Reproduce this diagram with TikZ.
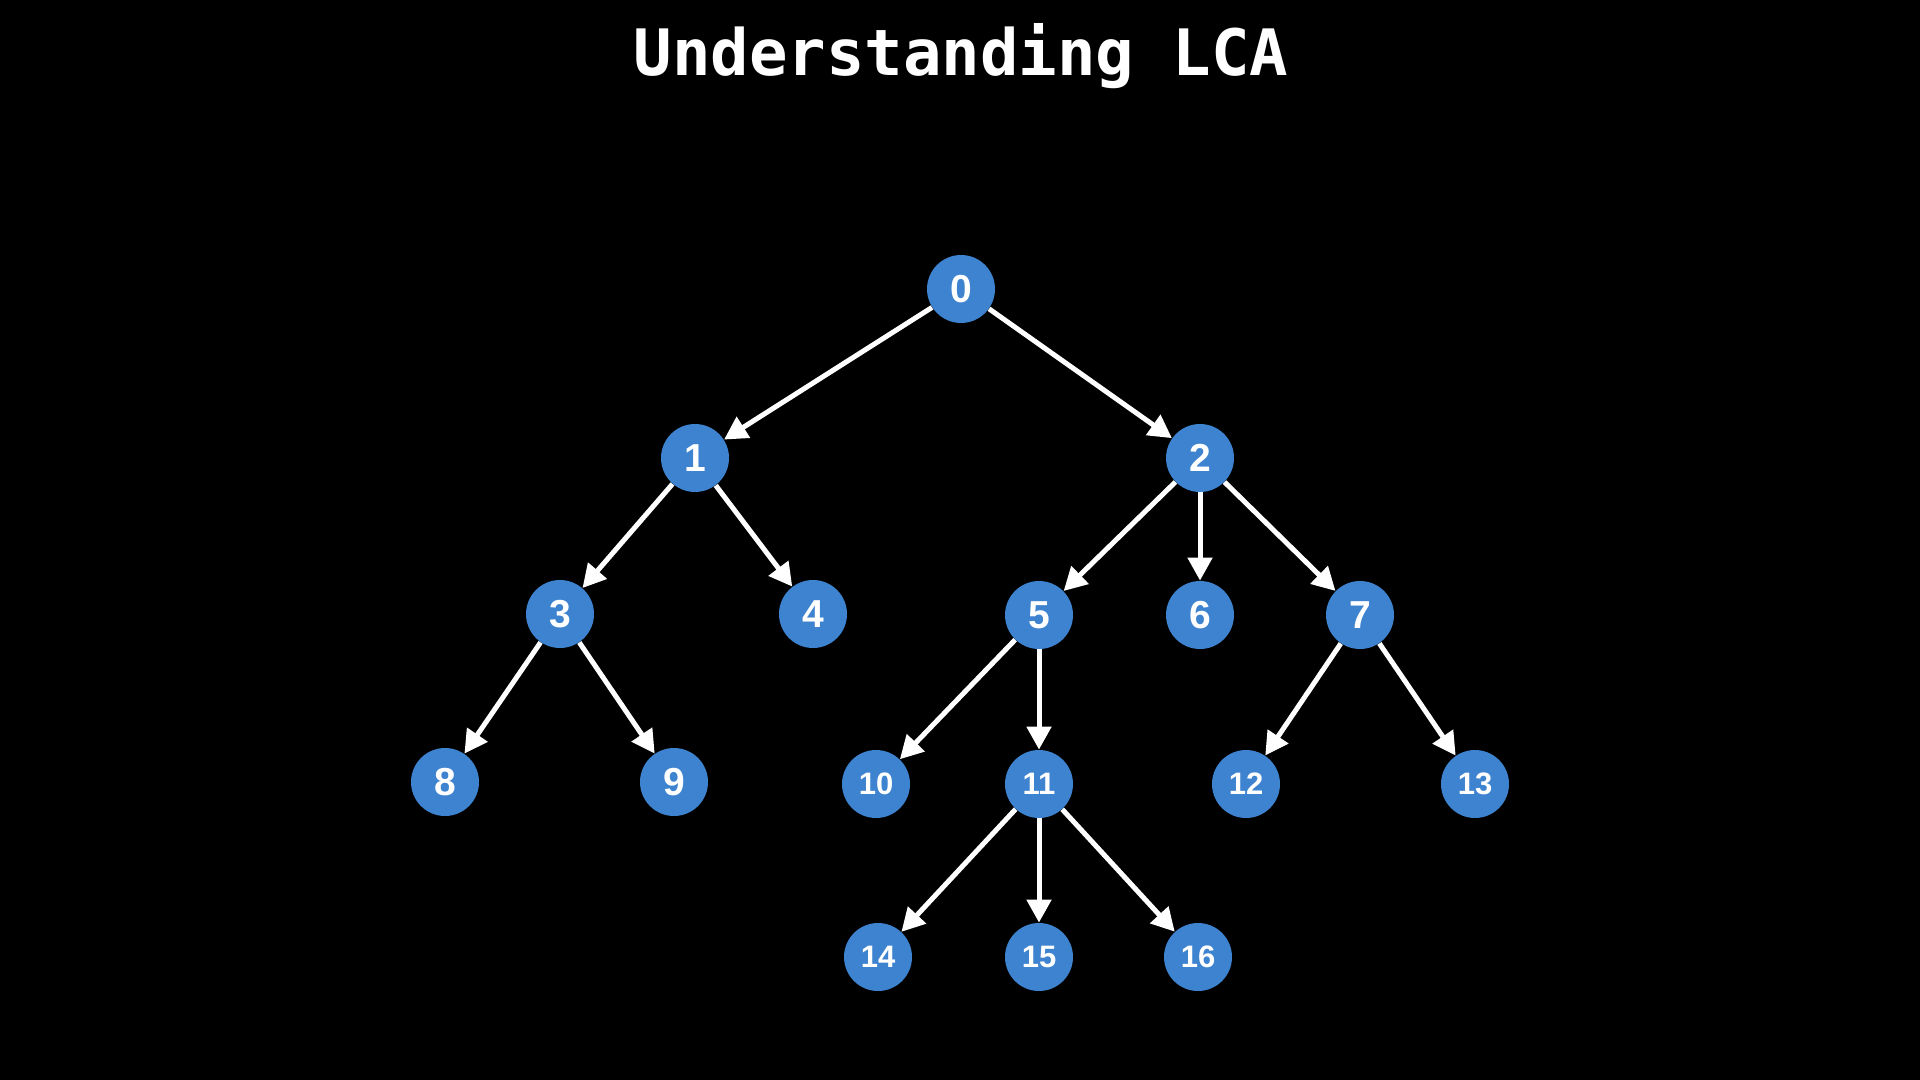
\documentclass[tikz,border=0pt]{standalone}
\usepackage{fontspec}
\setmainfont{Liberation Sans}
\newfontfamily\titlefont{DejaVu Sans Mono}
\usetikzlibrary{arrows.meta}
\definecolor{nodeblue}{RGB}{62,131,208}

\begin{document}
\begin{tikzpicture}[x=.5pt,y=-.5pt,>={Triangle[length=11.5pt,width=12pt]}]
  \tikzset{vertex/.style={circle,fill=nodeblue,minimum size=34pt,inner sep=0pt,text=white,font=\bfseries\fontsize{19.5}{20}\selectfont},
    small/.style={font=\bfseries\fontsize{15.5}{16}\selectfont},
    edge/.style={->,white,line width=2.5pt}}
  \fill[black] (0,0) rectangle (1920,1080);
  \node[anchor=base,text=white,font=\titlefont\bfseries\fontsize{32}{34}\selectfont] (title) at (961,76) {Understanding LCA};
  \foreach \n/\x/\y in {0/961/289, 1/695/458, 2/1200/458, 3/560/614, 4/813/614, 5/1039/615, 6/1200/615, 7/1360/615, 8/445/782, 9/674/782}
  {
    \node[vertex] (n\n) at (\x,\y) {\n};
  }
  \foreach \n/\x/\y in {10/876/784, 11/1039/784, 12/1246/784, 13/1475/784, 14/878/957, 15/1039/957, 16/1198/957}
  {
    \node[vertex,small] (n\n) at (\x,\y) {\n};
  }
  \foreach \a/\b in {0/1, 0/2, 1/3, 1/4, 2/5, 2/6, 2/7, 3/8, 3/9, 5/10, 5/11, 7/12, 7/13, 11/14, 11/15, 11/16}
  {
    \draw[edge] (n\a) -- (n\b);
  }
\end{tikzpicture}
\end{document}
